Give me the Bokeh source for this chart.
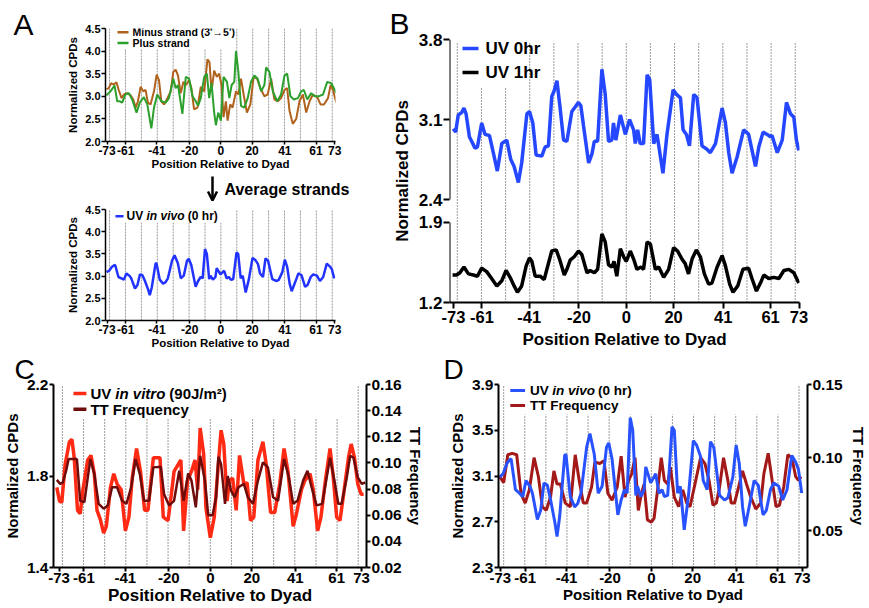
from bokeh.plotting import figure
from bokeh.models import Range1d, LinearAxis, FixedTicker, Label, Arrow, OpenHead, NumeralTickFormatter
from bokeh.layouts import row, column
from bokeh.embed import file_html
from bokeh.resources import INLINE

FONT = "Liberation Sans"

# ---------------- data ----------------
X_TICKS = [-73, -61, -41, -20, 0, 20, 41, 61, 73]
HELIX_MARKS = [-71.4, -61.2, -51.0, -40.8, -30.6, -20.4, -10.2, 0.0, 10.2, 20.4, 30.6, 40.8, 51.0, 61.2, 71.4]

A_MINUS = [(-73.4,3.16),(-71.9,3.18),(-70.4,3.29),(-68.7,3.26),(-67.0,3.31),(-65.5,3.14),(-63.7,2.96),(-62.2,3.04),
           (-60.1,3.07),(-57.9,3.02),(-56.2,2.93),(-54.7,2.75),(-53.2,2.89),(-51.5,3.21),(-49.8,3.11),(-48.3,3.14),
           (-46.8,2.86),(-45.1,2.82),(-42.9,3.11),(-41.2,3.48),(-39.7,3.36),(-38.2,2.89),(-36.5,2.82),(-34.3,2.96),
           (-32.2,3.11),(-30.5,3.54),(-29.0,3.59),(-27.5,3.46),(-25.8,3.07),(-24.0,3.32),(-22.3,3.25),(-20.4,3.36),
           (-18.9,3.18),(-17.2,2.71),(-15.0,2.75),(-12.9,3.21),(-10.7,3.11),(-8.6,3.82),(-7.3,3.75),(-6.0,3.11),
           (-4.3,3.57),(-2.6,3.43),(-1.1,3.50),(0.4,3.25),(1.7,2.54),(3.2,2.89),(4.3,2.46),(6.0,2.82),(7.5,2.75),
           (9.7,3.11),(11.2,3.04),(12.9,3.39),(14.6,3.04),(16.7,2.64),(18.9,2.82),(21.0,3.43),(23.2,3.39),(25.3,3.18),
           (27.9,3.00),(30.0,3.04),(32.2,3.39),(34.3,2.93),(36.5,2.89),(38.6,2.96),(40.8,3.14),(42.5,3.18),(44.0,2.68),
           (46.1,2.39),(48.3,2.50),(50.4,2.89),(52.6,3.04),(54.7,2.64),(56.9,2.89),(59.0,3.04),(61.8,2.98),(63.9,2.82),
           (66.1,2.82),(68.7,2.96),(70.4,3.25),(71.9,3.14),(74.0,2.86)]

A_PLUS = [(-73.4,3.02),(-70.8,3.11),(-68.2,3.24),(-66.5,2.89),(-64.8,2.89),(-63.3,2.86),(-61.2,3.04),(-59.0,3.07),
          (-56.9,2.93),(-54.1,2.64),(-52.0,2.86),(-49.4,2.98),(-47.2,2.82),(-44.6,2.29),(-42.9,2.75),(-40.8,3.04),
          (-38.2,2.89),(-35.4,2.86),(-33.3,2.96),(-30.5,3.39),(-29.0,3.18),(-27.5,3.25),(-24.7,2.61),(-22.5,3.43),
          (-20.4,3.39),(-18.2,3.00),(-16.1,2.89),(-14.6,2.79),(-12.9,2.96),(-10.7,3.43),(-9.0,3.50),(-7.5,2.96),
          (-6.0,3.29),(-4.3,2.64),(-3.2,2.36),(-1.7,2.64),(0.0,2.46),(1.7,3.43),(3.9,3.32),(5.4,2.96),(6.9,3.25),
          (8.6,3.32),(9.7,4.00),(11.2,3.54),(12.9,2.79),(15.0,2.75),(17.2,2.96),(19.3,3.32),(21.5,3.46),(23.6,3.39),
          (25.8,3.11),(27.9,3.25),(29.0,3.64),(31.1,3.54),(33.3,3.11),(36.1,2.89),(38.6,3.04),(40.8,3.46),(42.5,3.50),
          (44.6,3.00),(46.8,2.93),(49.4,2.96),(51.5,3.11),(53.2,3.14),(55.4,2.93),(57.9,3.07),(60.1,3.00),(62.7,3.00),
          (65.5,3.04),(68.2,3.32),(70.8,3.29),(74.0,3.07)]

INVIVO_0HR = [(-73.3,3.09),(-71.7,3.12),(-69.8,3.21),(-68.6,3.24),(-67.8,3.25),(-65.7,2.98),(-63.8,2.95),(-62.2,2.92),
              (-60.6,3.06),(-58.7,3.01),(-57.5,2.95),(-55.1,2.72),(-53.5,2.80),(-51.9,3.04),(-50.3,3.02),(-48.7,2.89),
              (-46.7,2.70),(-45.6,2.57),(-44.3,2.75),(-41.9,3.28),(-41.3,3.29),(-39.2,2.92),(-37.1,2.83),(-35.6,2.86),
              (-34.0,2.95),(-31.3,3.35),(-29.7,3.47),(-27.6,3.29),(-25.7,2.95),(-23.8,3.01),(-21.7,3.35),(-20.6,3.39),
              (-19.0,3.25),(-16.2,2.76),(-14.6,2.89),(-13.0,2.98),(-11.7,2.95),(-10.2,3.61),(-9.0,3.50),(-7.5,2.93),
              (-6.7,3.01),(-5.1,2.92),(-3.5,2.98),(-2.7,3.18),(-0.3,3.04),(2.1,3.12),(3.7,2.95),(5.2,2.98),(6.3,2.92),
              (7.9,2.93),(10.0,3.53),(11.1,3.50),(12.7,2.95),(14.0,3.01),(15.9,2.63),(17.9,2.92),(20.3,3.41),(21.9,3.37),
              (23.8,3.27),(25.1,3.06),(27.0,2.98),(28.6,3.40),(30.2,3.35),(33.0,2.93),(35.4,2.89),(37.0,2.91),(39.4,3.09),
              (41.0,3.37),(42.5,3.21),(44.1,2.83),(45.4,2.66),(47.6,2.86),(49.7,3.06),(51.7,3.02),(54.0,2.76),(55.6,2.80),
              (57.6,2.98),(59.2,3.04),(61.6,3.01),(63.5,2.89),(65.6,2.98),(67.9,3.28),(69.8,3.22),(71.1,3.16),(72.7,2.95)]

B_0HR = [(-73.1,3.02),(-72.1,2.99),(-71.0,3.14),(-69.6,3.16),(-68.6,3.20),(-67.7,3.15),(-66.3,2.95),(-63.9,2.85),
         (-62.9,2.86),(-61.1,3.07),(-59.7,2.97),(-57.8,2.96),(-56.2,2.81),(-54.5,2.65),(-52.6,2.89),(-50.5,2.92),
         (-48.8,2.75),(-47.4,2.69),(-45.6,2.55),(-44.2,2.72),(-42.0,3.15),(-40.9,3.17),(-39.5,3.07),(-38.1,2.79),
         (-35.7,2.78),(-34.3,2.86),(-32.9,2.87),(-31.5,3.30),(-30.5,3.35),(-29.3,3.44),(-27.9,3.19),(-26.5,2.92),
         (-25.1,2.91),(-23.0,3.17),(-21.6,3.21),(-20.2,3.25),(-19.2,3.22),(-18.1,3.05),(-15.9,2.72),(-14.5,2.80),
         (-13.5,2.91),(-12.1,2.91),(-10.3,3.54),(-8.9,3.32),(-7.5,2.91),(-6.1,2.92),(-5.4,3.07),(-4.4,2.92),
         (-2.5,3.14),(-0.4,2.97),(1.4,3.10),(3.1,3.01),(3.8,2.89),(4.8,3.01),(5.9,2.89),(7.3,2.89),(8.8,3.49),
         (9.9,3.45),(11.6,2.89),(13.0,2.97),(15.5,2.63),(17.2,2.97),(19.8,3.36),(21.2,3.32),(22.9,3.29),(24.0,3.01),
         (25.4,2.97),(26.7,2.87),(28.5,3.32),(29.9,3.29),(32.0,2.87),(34.1,2.84),(35.5,2.81),(37.7,2.89),(40.5,3.20),
         (41.9,3.07),(43.3,2.81),(44.7,2.63),(46.8,2.77),(49.6,3.01),(51.7,2.97),(54.6,2.69),(56.0,2.86),(57.8,2.99),
         (59.5,2.97),(60.9,2.95),(61.6,2.96),(63.8,2.81),(65.9,2.92),(67.7,3.25),(69.4,3.15),(70.8,3.12),(71.9,2.92),
         (72.9,2.83)]

B_1HR = [(-73.4,1.44),(-71.7,1.44),(-70.3,1.46),(-68.6,1.51),(-66.7,1.45),(-64.6,1.44),(-62.9,1.43),(-61.1,1.50),
         (-59.0,1.47),(-56.9,1.41),(-54.7,1.345),(-52.6,1.39),(-50.8,1.48),(-49.1,1.42),(-47.4,1.345),(-46.0,1.29),
         (-44.2,1.345),(-42.3,1.52),(-40.9,1.59),(-39.9,1.56),(-38.5,1.43),(-36.4,1.43),(-34.7,1.40),(-33.3,1.51),
         (-31.5,1.65),(-29.6,1.66),(-28.2,1.58),(-26.2,1.44),(-25.1,1.49),(-23.7,1.57),(-22.0,1.60),(-20.2,1.65),
         (-18.8,1.62),(-16.6,1.46),(-15.3,1.48),(-13.5,1.46),(-12.1,1.49),(-10.3,1.80),(-8.9,1.73),(-7.5,1.53),
         (-6.1,1.51),(-5.2,1.56),(-4.0,1.43),(-2.5,1.67),(-1.1,1.60),(0.0,1.56),(1.7,1.65),(3.1,1.58),(4.5,1.49),
         (6.2,1.51),(7.3,1.49),(8.8,1.73),(10.2,1.71),(12.3,1.49),(13.7,1.51),(15.8,1.42),(17.9,1.49),(20.0,1.68),
         (21.7,1.65),(23.5,1.58),(24.9,1.54),(26.3,1.45),(27.8,1.58),(29.6,1.66),(31.3,1.60),(33.0,1.45),(34.8,1.36),
         (36.2,1.37),(38.4,1.51),(40.5,1.61),(41.9,1.52),(43.7,1.36),(45.1,1.29),(47.1,1.345),(49.3,1.49),(51.7,1.50),
         (53.1,1.41),(55.0,1.30),(56.7,1.37),(58.1,1.44),(60.2,1.41),(62.3,1.42),(64.5,1.41),(66.6,1.48),(68.7,1.49),
         (70.8,1.46),(72.9,1.37)]

C_INVITRO = [(-74.1,1.75),(-72.8,1.69),(-71.7,1.685),(-70.1,1.85),(-68.0,1.95),(-66.8,1.96),(-65.7,1.88),(-64.1,1.65),
             (-62.8,1.635),(-61.5,1.74),(-59.2,1.87),(-57.6,1.89),(-56.0,1.81),(-54.7,1.65),(-53.1,1.61),(-51.5,1.55),
             (-50.2,1.58),(-48.2,1.75),(-46.6,1.81),(-45.0,1.765),(-43.0,1.74),(-41.0,1.56),(-39.3,1.62),(-37.7,1.79),
             (-35.6,1.92),(-33.7,1.82),(-31.7,1.65),(-30.1,1.65),(-27.5,1.88),(-26.4,1.88),(-24.3,1.88),(-22.7,1.62),
             (-20.4,1.605),(-18.8,1.72),(-17.5,1.82),(-14.2,1.87),(-12.9,1.56),(-11.0,1.78),(-9.1,1.82),(-7.4,1.87),
             (-6.1,1.74),(-4.9,2.01),(-3.2,1.895),(-2.1,1.66),(0.0,1.53),(1.9,1.62),(3.6,1.82),(5.2,2.00),(6.5,1.94),
             (8.1,1.69),(9.2,1.78),(10.8,1.79),(12.5,1.65),(14.1,1.89),(16.2,1.765),(17.8,1.77),(19.4,1.605),(21.0,1.62),
             (23.0,1.87),(25.4,1.95),(27.0,1.85),(29.1,1.64),(31.1,1.64),(33.5,1.765),(35.6,1.92),(37.5,1.82),(40.0,1.58),
             (41.6,1.635),(44.0,1.74),(45.6,1.78),(48.1,1.81),(49.7,1.74),(51.8,1.56),(53.4,1.62),(55.7,1.79),(57.8,1.92),
             (59.4,1.79),(61.0,1.62),(62.6,1.605),(64.2,1.71),(66.7,1.88),(68.0,1.94),(69.6,1.88),(71.2,1.765),
             (72.8,1.72),(74.0,1.72)]

C_TT = [(-74.1,0.087),(-72.5,0.084),(-71.2,0.085),(-69.6,0.094),(-68.4,0.103),(-64.4,0.103),(-62.8,0.071),(-60.8,0.070),
        (-57.9,0.103),(-56.0,0.0915),(-53.9,0.0687),(-51.5,0.065),(-49.5,0.0675),(-47.4,0.0814),(-45.0,0.0814),
        (-42.6,0.071),(-40.5,0.0687),(-38.2,0.0814),(-36.1,0.103),(-34.0,0.0915),(-32.0,0.071),(-29.6,0.071),
        (-27.5,0.0966),(-23.9,0.097),(-22.3,0.076),(-19.9,0.0675),(-17.5,0.071),(-15.0,0.094),(-12.9,0.071),
        (-10.7,0.092),(-9.1,0.0865),(-7.0,0.066),(-4.9,0.1055),(-2.6,0.0865),(-1.0,0.060),(1.1,0.060),(2.8,0.0738),
        (3.9,0.1047),(5.2,0.099),(7.1,0.0687),(8.4,0.090),(10.0,0.0788),(11.7,0.0738),(13.6,0.0814),(16.2,0.084),
        (18.1,0.0738),(20.6,0.0687),(23.0,0.0865),(25.4,0.1004),(27.8,0.0966),(30.3,0.0738),(32.7,0.071),(35.6,0.103),
        (37.9,0.089),(40.0,0.0687),(42.1,0.071),(44.8,0.0865),(46.9,0.094),(48.9,0.0814),(51.3,0.0675),(54.0,0.0687),
        (57.8,0.104),(59.9,0.0865),(61.8,0.0687),(63.4,0.0687),(65.9,0.089),(67.5,0.1055),(69.1,0.104),(71.2,0.089),
        (73.1,0.084),(74.8,0.085)]

D_TT = [(-73.3,0.087),(-71.4,0.083),(-69.4,0.102),(-67.3,0.103),(-65.1,0.102),(-63.0,0.0755),(-61.0,0.069),(-59.0,0.078),
        (-56.7,0.100),(-54.6,0.087),(-52.7,0.0665),(-50.8,0.064),(-48.7,0.0735),(-47.1,0.091),(-45.6,0.082),(-44.0,0.082),
        (-41.6,0.069),(-39.2,0.0665),(-36.8,0.102),(-34.9,0.0845),(-32.9,0.069),(-31.3,0.069),(-28.9,0.080),(-27.3,0.097),
        (-24.9,0.096),(-22.9,0.098),(-21.0,0.0755),(-19.0,0.071),(-16.5,0.080),(-14.6,0.101),(-12.7,0.073),(-11.0,0.0845),
        (-9.5,0.089),(-7.9,0.100),(-6.3,0.064),(-4.8,0.0755),(-3.5,0.082),(-1.9,0.0575),(0.0,0.056),(1.3,0.0585),
        (3.2,0.080),(4.8,0.100),(6.3,0.0845),(7.9,0.082),(9.2,0.0935),(11.1,0.073),(13.2,0.0665),(15.2,0.078),
        (17.1,0.069),(18.7,0.0665),(21.1,0.082),(23.8,0.100),(25.9,0.096),(27.9,0.0845),(29.8,0.0675),(31.4,0.069),
        (33.0,0.080),(34.9,0.100),(37.0,0.0845),(38.6,0.069),(40.2,0.069),(42.2,0.080),(44.1,0.091),(46.0,0.082),
        (48.1,0.073),(50.5,0.065),(52.9,0.069),(54.4,0.089),(56.5,0.103),(58.4,0.0845),(60.3,0.0665),(61.9,0.0675),
        (64.0,0.080),(66.0,0.102),(67.9,0.100),(69.8,0.087),(71.1,0.0845),(72.4,0.087)]

A_Y_TICKS = [2.0, 2.5, 3.0, 3.5, 4.0, 4.5]
B_Y_TICKS_UPPER = [2.4, 3.1, 3.8]
B_Y_TICKS_LOWER = [1.2, 1.9]
C_Y_TICKS = [1.4, 1.8, 2.2]
C_TT_TICKS = [0.02, 0.04, 0.06, 0.08, 0.10, 0.12, 0.14, 0.16]
D_Y_TICKS = [2.3, 2.7, 3.1, 3.5, 3.9]
D_TT_TICKS = [0.05, 0.10, 0.15]

# ---------------- helpers ----------------
W_BOLD = {'U': 722, 'V': 667, ' ': 278, 'i': 278, 'n': 611, 'v': 556, 'o': 611, '(': 333, ')': 333,
          '0': 556, 'h': 611, 'r': 389, 't': 333, '9': 556, 'J': 556, '/': 278, 'm': 889, '\u00b2': 333}


def text_w(s, size):
    return sum(W_BOLD.get(c, 556) for c in s) * size / 1000.0


def xs(pairs):
    return [a for a, _ in pairs]


def ys(pairs):
    return [b for _, b in pairs]


def make_panel(width, height, ml, mr, mt, mb, xr, yr):
    p = figure(width=width, height=height, x_range=Range1d(*xr), y_range=Range1d(*yr),
               output_backend="svg", toolbar_location=None,
               min_border_left=ml, min_border_right=mr, min_border_top=mt, min_border_bottom=mb)
    p.outline_line_color = None
    p.xgrid.visible = False
    p.ygrid.visible = False
    p.background_fill_color = "white"
    p.border_fill_color = "white"
    fw = width - ml - mr
    fh = height - mt - mb
    sx = fw / (xr[1] - xr[0])
    sy = fh / (yr[1] - yr[0])

    def X(dx):
        return xr[0] + dx / sx

    def Y(dy):
        return yr[1] - dy / sy
    return p, X, Y


def blank_fig(w, h):
    p = figure(width=w, height=h, x_range=Range1d(0, w), y_range=Range1d(h, 0),
               output_backend="svg", toolbar_location=None,
               x_axis_location=None, y_axis_location=None,
               min_border_left=0, min_border_right=0, min_border_top=0, min_border_bottom=0)
    p.outline_line_color = None
    p.grid.visible = False
    p.background_fill_color = "white"
    p.border_fill_color = "white"
    return p


def style_axis(ax, tick_px, label_px, lw=2, tick_out=4, std=2, lstd=2):
    ax.axis_line_color = "black"
    ax.axis_line_width = lw
    ax.major_tick_line_color = "black"
    ax.major_tick_line_width = lw
    ax.major_tick_in = 0
    ax.major_tick_out = tick_out
    ax.minor_tick_line_color = None
    ax.major_label_text_font = FONT
    ax.major_label_text_font_style = "bold"
    ax.major_label_text_font_size = f"{tick_px}px"
    ax.major_label_text_color = "black"
    ax.axis_label_text_font = FONT
    ax.axis_label_text_font_style = "bold"
    ax.axis_label_text_font_size = f"{label_px}px"
    ax.axis_label_text_color = "black"
    ax.major_label_standoff = std
    ax.axis_label_standoff = lstd


def add_dots(p, bottom, tops, color, dash, lw=1):
    p.segment(x0=HELIX_MARKS, y0=[bottom] * len(HELIX_MARKS), x1=HELIX_MARKS, y1=tops,
              line_color=color, line_dash=dash, line_width=lw)


def legend_entry(p, X, Y, sw, tx, dy, color, lw, parts, size):
    p.line([X(sw[0]), X(sw[1])], [Y(dy), Y(dy)], line_color=color, line_width=lw)
    cur = tx
    for text, style in parts:
        lead = len(text) - len(text.lstrip(" "))
        p.add_layout(Label(x=X(cur + text_w(" " * lead, size)), y=Y(dy), text=text.strip(" "),
                           text_font=FONT, text_font_style=style, text_font_size=f"{size}px",
                           text_baseline="middle", text_align="left", text_color="black"))
        cur += text_w(text, size)


def panel_title(p, ch, offset, size=30):
    p.title.text = ch
    p.title.text_font = FONT
    p.title.text_font_size = f"{size}px"
    p.title.text_font_style = "normal"
    p.title.text_color = "black"
    p.title.align = "left"
    p.title.offset = offset
    p.title.standoff = 0


def x_axis(p, tick_px, label_px, lw, tick_out, std, lstd):
    p.xaxis.ticker = FixedTicker(ticks=X_TICKS)
    p.xaxis.major_label_overrides = {t: str(t) for t in X_TICKS if t < 0}
    p.xaxis.axis_label = "Position Relative to Dyad"
    style_axis(p.xaxis[0], tick_px, label_px, lw, tick_out, std, lstd)


GRAY_DOT = "#9a9a9a"
DARK_DOT = "#3a3a3a"

# ---------------- Panel A (top) ----------------
xrA = (-74.0, 73.5)
stripA = blank_fig(40, 172)
stripA.add_layout(Label(x=23, y=24, text="A", text_font=FONT, text_font_size="30px", text_align="center",
                        text_baseline="middle", text_color="black"))

pA1, X, Y = make_panel(348, 172, 65, 53, 28, 27, xrA, (2.0, 4.5))
topsA1 = [4.5 if (i == 0 or i >= 8) else 4.04 for i in range(len(HELIX_MARKS))]
add_dots(pA1, 2.0, topsA1, GRAY_DOT, "2 1", 1)
pA1.line(xs(A_MINUS), ys(A_MINUS), line_color="#b0621c", line_width=2)
pA1.line(xs(A_PLUS), ys(A_PLUS), line_color="#2ca02c", line_width=2)
pA1.yaxis.ticker = FixedTicker(ticks=A_Y_TICKS)
pA1.yaxis.formatter = NumeralTickFormatter(format="0.0")
pA1.yaxis.axis_label = "Normalized CPDs"
style_axis(pA1.yaxis[0], 11, 11.5, 1.5, 4, 1, 3)
x_axis(pA1, 12, 11.5, 1.5, 3, 1, 0)
legend_entry(pA1, X, Y, (12, 23), 27, 4, "#b0621c", 2.5, [("Minus strand (3'\u21925')", "bold")], 10.5)
legend_entry(pA1, X, Y, (12, 23), 27, 15, "#2ca02c", 2.5, [("Plus strand", "bold")], 10.5)

# ---------------- "Average strands" strip ----------------
mid = blank_fig(388, 29)
mid.add_layout(Arrow(x_start=212, y_start=4, x_end=212, y_end=28,
                     end=OpenHead(size=9, line_width=2.5, line_color="black"),
                     line_width=2.5, line_color="black"))
mid.add_layout(Label(x=224, y=17, text="Average strands", text_font=FONT, text_font_style="bold",
                     text_font_size="16px", text_baseline="middle", text_align="left", text_color="black"))

# ---------------- Panel A (bottom) ----------------
pA2, X, Y = make_panel(388, 150, 105, 53, 8, 25, xrA, (2.0, 4.5))
topsA2 = [4.5 if (i == 0 or i >= 8) else 4.2 for i in range(len(HELIX_MARKS))]
add_dots(pA2, 2.0, topsA2, GRAY_DOT, "2 1", 1)
pA2.line(xs(INVIVO_0HR), ys(INVIVO_0HR), line_color="#2233ff", line_width=2.5)
pA2.yaxis.ticker = FixedTicker(ticks=A_Y_TICKS)
pA2.yaxis.formatter = NumeralTickFormatter(format="0.0")
pA2.yaxis.axis_label = "Normalized CPDs"
style_axis(pA2.yaxis[0], 11, 11.5, 1.5, 4, 1, 3)
x_axis(pA2, 12, 11.5, 1.5, 3, 1, 0)
legend_entry(pA2, X, Y, (10, 18), 21, 7, "#2233ff", 2.5,
             [("UV", "bold"), (" in vivo", "bold italic"), (" (0 hr)", "bold")], 12)

# ---------------- Panel B ----------------
xrB = (-74.7, 73.2)
pB, X, Y = make_panel(481, 351, 61, 70, 39, 48, xrB, (1.5, 3.8))
LOW_OFFSET = 0.3
pB.extra_y_ranges = {"low": Range1d(1.5 - LOW_OFFSET, 3.8 - LOW_OFFSET)}
topsB = [3.38 if i in (1, 2) else 3.77 for i in range(len(HELIX_MARKS))]
add_dots(pB, 1.5, topsB, DARK_DOT, "1 2", 1)
pB.line(xs(B_0HR), ys(B_0HR), line_color="#2447ff", line_width=3.5)
pB.line(xs(B_1HR), ys(B_1HR), line_color="black", line_width=3.5, y_range_name="low")
b_ticks = [round(t, 4) for t in B_Y_TICKS_UPPER] + [round(t + LOW_OFFSET, 4) for t in B_Y_TICKS_LOWER]
b_over = {round(t, 4): f"{t:.1f}" for t in B_Y_TICKS_UPPER}
b_over.update({round(t + LOW_OFFSET, 4): f"{t:.1f}" for t in B_Y_TICKS_LOWER})
pB.yaxis.ticker = FixedTicker(ticks=b_ticks)
pB.yaxis.major_label_overrides = b_over
pB.yaxis.axis_label = "Normalized CPDs"
style_axis(pB.yaxis[0], 17, 17, 2, 6, 1, 4)
pB.yaxis.axis_line_color = None
pB.add_layout(Arrow(x_start=xrB[0], y_start=max(B_Y_TICKS_UPPER), x_end=xrB[0], y_end=min(B_Y_TICKS_UPPER),
                    end=None, line_width=2, line_color="black"))
pB.add_layout(Arrow(x_start=xrB[0], y_start=max(B_Y_TICKS_LOWER), x_end=xrB[0], y_end=min(B_Y_TICKS_LOWER),
                    end=None, line_width=2, line_color="black", y_range_name="low"))
x_axis(pB, 16.5, 17, 2, 6, 2, 4)
legend_entry(pB, X, Y, (13, 29), 36, 9, "#2447ff", 3.5, [("UV 0hr", "bold")], 17)
legend_entry(pB, X, Y, (13, 29), 36, 33, "black", 3.5, [("UV 1hr", "bold")], 17)
panel_title(pB, "B", 389 - 449)

# ---------------- Panel C ----------------
xrC = (-75.7, 75.4)
pC, X, Y = make_panel(430, 257, 52, 64, 32, 41, xrC, (1.4, 2.2))
pC.extra_y_ranges = {"tt": Range1d(0.02, 0.16)}
topsC = [2.2 if i in (0, 14) else 2.05 for i in range(len(HELIX_MARKS))]
add_dots(pC, 1.4, topsC, DARK_DOT, "1 2", 1)
pC.line(xs(C_INVITRO), ys(C_INVITRO), line_color="#ff2a14", line_width=3.5)
pC.line(xs(C_TT), ys(C_TT), line_color="#6e0c0c", line_width=2.5, y_range_name="tt")
pC.yaxis.ticker = FixedTicker(ticks=C_Y_TICKS)
pC.yaxis.formatter = NumeralTickFormatter(format="0.0")
pC.yaxis.axis_label = "Normalized CPDs"
style_axis(pC.yaxis[0], 15.5, 15, 2, 4, 1, 3)
axC = LinearAxis(y_range_name="tt", ticker=FixedTicker(ticks=C_TT_TICKS),
                 formatter=NumeralTickFormatter(format="0.00"), axis_label="TT Frequency")
style_axis(axC, 15.5, 15, 2, 4, 1, 2)
pC.add_layout(axC, "right")
x_axis(pC, 15, 17, 2, 4, 1, 0)
legend_entry(pC, X, Y, (20, 33), 37, 9, "#ff2a14", 3.5,
             [("UV", "bold"), (" in vitro", "bold italic"), (" (90J/m\u00b2)", "bold")], 15)
legend_entry(pC, X, Y, (20, 33), 37, 25, "#6e0c0c", 3.5, [("TT Frequency", "bold")], 15)
panel_title(pC, "C", 13 - 52, 28)

# ---------------- Panel D ----------------
xrD = (-73.9, 75.5)
pD, X, Y = make_panel(439, 257, 68, 57, 32, 41, xrD, (2.3, 3.9))
pD.extra_y_ranges = {"tt": Range1d(0.025, 0.15)}
topsD = [3.9 if i in (0, 14) else 3.64 for i in range(len(HELIX_MARKS))]
add_dots(pD, 2.3, topsD, DARK_DOT, "1 2", 1)
pD.line(xs(D_TT), ys(D_TT), line_color="#a31818", line_width=3, y_range_name="tt")
pD.line(xs(INVIVO_0HR), ys(INVIVO_0HR), line_color="#2952ff", line_width=3)
pD.yaxis.ticker = FixedTicker(ticks=D_Y_TICKS)
pD.yaxis.formatter = NumeralTickFormatter(format="0.0")
pD.yaxis.axis_label = "Normalized CPDs"
style_axis(pD.yaxis[0], 15.5, 15, 2, 4, 1, 3)
axD = LinearAxis(y_range_name="tt", ticker=FixedTicker(ticks=D_TT_TICKS),
                 formatter=NumeralTickFormatter(format="0.00"), axis_label="TT Frequency")
style_axis(axD, 15.5, 15, 2, 4, 1, 4)
pD.add_layout(axD, "right")
x_axis(pD, 15, 15, 2, 4, 1, 0)
legend_entry(pD, X, Y, (12, 27), 32, 6, "#2952ff", 3,
             [("UV", "bold"), (" in vivo", "bold italic"), (" (0 hr)", "bold")], 13.5)
legend_entry(pD, X, Y, (12, 27), 32, 21, "#a31818", 3, [("TT Frequency", "bold")], 13.5)
panel_title(pD, "D", 443 - 498, 28)

colA = column(row(column(stripA), pA1), column(mid), pA2)
layout = column(row(colA, pB), row(pC, pD))
open("out.html", "w").write(file_html(layout, INLINE, title="CPD figure"))
